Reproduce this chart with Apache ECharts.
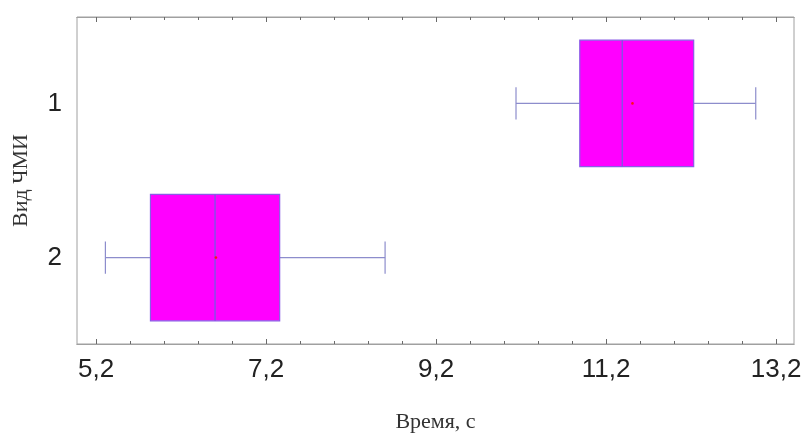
<!DOCTYPE html>
<html>
<head>
<meta charset="utf-8">
<script src="https://cdn.jsdelivr.net/npm/echarts@6/dist/echarts.min.js"></script>
<style>
  html, body { margin: 0; padding: 0; background: #fff; }
  #chart { width: 802px; height: 433px; }
</style>
</head>
<body>
<div id="chart"></div>
<script>
// категории (вид ЧМИ) и статистики по времени, с
var categories = ['1', '2'];
var lowVals  = [10.14, 5.31];
var q1Vals   = [10.89, 5.84];
var medVals  = [11.39, 6.60];
var q3Vals   = [12.23, 7.36];
var highVals = [12.96, 8.60];
var meanVals = [11.51, 6.61];

// подписи оси X
var majorTicks = [5.2, 7.2, 9.2, 11.2, 13.2];
var minorTicks = [5.6, 6.0, 6.4, 6.8, 7.6, 8.0, 8.4, 8.8, 9.6, 10.0, 10.4, 10.8, 11.6, 12.0, 12.4, 12.8];

var xMin = 4.976, xMax = 13.41;
var frameColor = '#a0a0a0';
var tickColor = '#6a6a6a';

var boxData = categories.map(function (c, i) {
    return [i + 1, lowVals[i], q1Vals[i], medVals[i], q3Vals[i], highVals[i], meanVals[i]];
});

function xAxisDef(pos, ticks, len, withLabels) {
    return {
        type: 'value',
        position: pos,
        min: xMin,
        max: xMax,
        axisLine: { show: true, lineStyle: { color: frameColor } },
        splitLine: { show: false },
        axisTick: {
            show: true,
            inside: true,
            length: len,
            customValues: ticks,
            lineStyle: { color: tickColor, width: 1 }
        },
        axisLabel: withLabels ? {
            show: true,
            customValues: ticks,
            margin: 13,
            fontFamily: 'Liberation Sans',
            fontSize: 26,
            color: '#222',
            formatter: function (v) { return String(v).replace('.', ','); }
        } : { show: false }
    };
}

var chart = echarts.init(document.getElementById('chart'));
var xMain = xAxisDef('bottom', majorTicks, 5, true);
xMain.name = 'Время, с';
xMain.nameLocation = 'middle';
xMain.nameGap = 67;
xMain.nameTextStyle = { fontFamily: 'Liberation Serif', fontSize: 22, color: '#333' };

var option = {
    animation: false,
    grid: {
        left: 77, top: 17, right: 8, bottom: 89,
        outerBoundsMode: 'none',
        containLabel: false,
        show: true,
        borderColor: frameColor,
        borderWidth: 1
    },
    xAxis: [
        xMain,
        xAxisDef('top', majorTicks, 5, false),
        xAxisDef('bottom', minorTicks, 3, false),
        xAxisDef('top', minorTicks, 3, false)
    ],
    yAxis: {
        type: 'value',
        min: 0.44,
        max: 2.56,
        inverse: true,
        name: 'Вид ЧМИ',
        nameLocation: 'middle',
        nameGap: 45,
        nameTextStyle: { fontFamily: 'Liberation Serif', fontSize: 22, color: '#333' },
        axisLine: { show: false },
        axisTick: { show: false },
        splitLine: { show: false },
        axisLabel: {
            customValues: [1, 2],
            margin: 15,
            fontFamily: 'Liberation Sans',
            fontSize: 26,
            color: '#222',
            formatter: function (v) { return categories[Math.round(v) - 1]; }
        }
    },
    series: [{
        type: 'custom',
        xAxisIndex: 0,
        data: boxData,
        encode: { x: [1, 2, 3, 4, 5, 6], y: 0 },
        renderItem: function (params, api) {
            var y = api.value(0);
            var pLow = api.coord([api.value(1), y]);
            var pQ1 = api.coord([api.value(2), y]);
            var pMed = api.coord([api.value(3), y]);
            var pQ3 = api.coord([api.value(4), y]);
            var pHigh = api.coord([api.value(5), y]);
            var pMean = api.coord([api.value(6), y]);
            var unit = api.size([0, 1])[1];
            var boxHalf = unit * 0.41;
            var capHalf = unit * 0.105;
            var cy = pMed[1];
            var whisk = { stroke: '#8d8dcc', lineWidth: 1.2 };
            return {
                type: 'group',
                children: [
                    { type: 'line', shape: { x1: pLow[0], y1: cy, x2: pQ1[0], y2: cy }, style: whisk },
                    { type: 'line', shape: { x1: pQ3[0], y1: cy, x2: pHigh[0], y2: cy }, style: whisk },
                    { type: 'line', shape: { x1: pLow[0], y1: cy - capHalf, x2: pLow[0], y2: cy + capHalf }, style: whisk },
                    { type: 'line', shape: { x1: pHigh[0], y1: cy - capHalf, x2: pHigh[0], y2: cy + capHalf }, style: whisk },
                    {
                        type: 'rect',
                        shape: { x: pQ1[0], y: cy - boxHalf, width: pQ3[0] - pQ1[0], height: boxHalf * 2 },
                        style: { fill: '#ff00ff', stroke: '#8a5ce6', lineWidth: 1.2 }
                    },
                    {
                        type: 'line',
                        shape: { x1: pMed[0], y1: cy - boxHalf, x2: pMed[0], y2: cy + boxHalf },
                        style: { stroke: '#8a4ce6', lineWidth: 1.5 }
                    },
                    { type: 'circle', shape: { cx: pMean[0], cy: cy, r: 1.3 }, style: { fill: '#ff1010' } }
                ]
            };
        }
    }]
};
chart.setOption(option);
</script>
</body>
</html>
